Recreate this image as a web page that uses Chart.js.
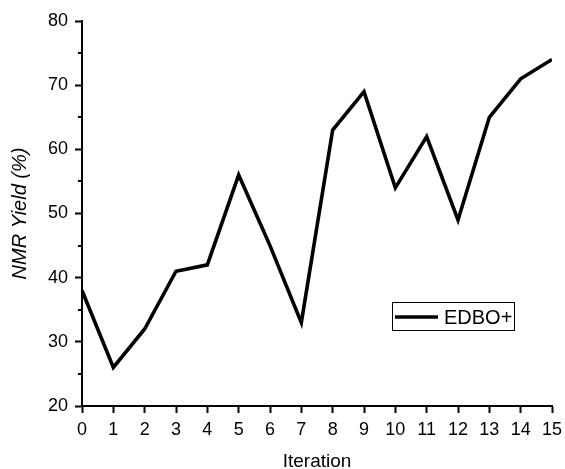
<!DOCTYPE html>
<html>
<head>
<meta charset="utf-8">
<script src="https://cdn.jsdelivr.net/npm/chart.js@4.4.0/dist/chart.umd.min.js"></script>
<style>
    html, body { margin: 0; padding: 0; background: #fff; }
    #wrap { width: 565px; height: 469px; }
</style>
</head>
<body>
<div id="wrap"><canvas id="chart" width="565" height="469"></canvas></div>
<script>
// Data
const iterations = [0, 1, 2, 3, 4, 5, 6, 7, 8, 9, 10, 11, 12, 13, 14, 15];
const yieldValues = [38, 26, 32, 41, 42, 56, 45, 33, 63, 69, 54, 62, 49, 65, 71, 74];
const yMinorTicks = [25, 35, 45, 55, 65, 75];

const FONT = 'Liberation Sans, Arial, sans-serif';

// Minor ticks on the y axis plus the boxed legend inside the plot
const extras = {
    id: 'extras',
    afterDraw(chart) {
        const ctx = chart.ctx;
        const y = chart.scales.y;
        const left = y.right;
        ctx.save();
        ctx.strokeStyle = '#000';
        ctx.lineWidth = 2;
        yMinorTicks.forEach(v => {
            const py = Math.round(y.getPixelForValue(v));
            ctx.beginPath();
            ctx.moveTo(left - 4, py);
            ctx.lineTo(left, py);
            ctx.stroke();
        });

        // legend
        const ds = chart.data.datasets[0];
        const bx = 392, by = 302, bw = 122, bh = 28;
        ctx.lineWidth = 1;
        ctx.strokeStyle = '#000';
        ctx.strokeRect(bx + 0.5, by + 0.5, bw, bh);
        ctx.lineWidth = ds.borderWidth;
        ctx.strokeStyle = ds.borderColor;
        ctx.beginPath();
        ctx.moveTo(bx + 3, by + 15);
        ctx.lineTo(bx + 46, by + 15);
        ctx.stroke();
        ctx.fillStyle = '#000';
        ctx.font = '20px ' + FONT;
        ctx.textBaseline = 'middle';
        ctx.fillText(ds.label, bx + 52, by + 16);
        ctx.restore();
    }
};

new Chart(document.getElementById('chart'), {
    type: 'line',
    data: {
        datasets: [{
            label: 'EDBO+',
            data: iterations.map((x, i) => ({ x, y: yieldValues[i] })),
            borderColor: '#000',
            borderWidth: 3.6,
            pointRadius: 0,
            tension: 0,
            fill: false
        }]
    },
    options: {
        responsive: false,
        animation: false,
        layout: { padding: { left: 0, right: 13, top: 21, bottom: 0 } },
        plugins: {
            legend: { display: false },
            tooltip: { enabled: false }
        },
        scales: {
            x: {
                type: 'linear',
                min: 0,
                max: 15,
                afterFit: s => {
                    s.height = 63;
                    s.paddingRight = 0;
                },
                ticks: {
                    stepSize: 1,
                    color: '#000',
                    font: { family: FONT, size: 18 },
                    padding: 6,
                    maxRotation: 0
                },
                grid: {
                    drawOnChartArea: false,
                    tickLength: 7,
                    tickWidth: 2,
                    tickColor: '#000'
                },
                border: { display: true, color: '#000', width: 2 },
                title: {
                    display: true,
                    text: 'Iteration',
                    color: '#000',
                    font: { family: FONT, size: 19 },
                    padding: { top: 8, bottom: -4 }
                }
            },
            y: {
                min: 20,
                max: 80,
                afterFit: s => { s.width = 82; },
                ticks: {
                    stepSize: 10,
                    color: '#000',
                    font: { family: FONT, size: 18 },
                    padding: 7
                },
                grid: {
                    drawOnChartArea: false,
                    tickLength: 7,
                    tickWidth: 2,
                    tickColor: '#000'
                },
                border: { display: true, color: '#000', width: 2 },
                title: {
                    display: true,
                    text: 'NMR Yield (%)',
                    color: '#000',
                    font: { family: FONT, size: 20, style: 'italic' },
                    padding: { top: 8, bottom: 4 }
                }
            }
        }
    },
    plugins: [extras]
});
</script>
</body>
</html>
